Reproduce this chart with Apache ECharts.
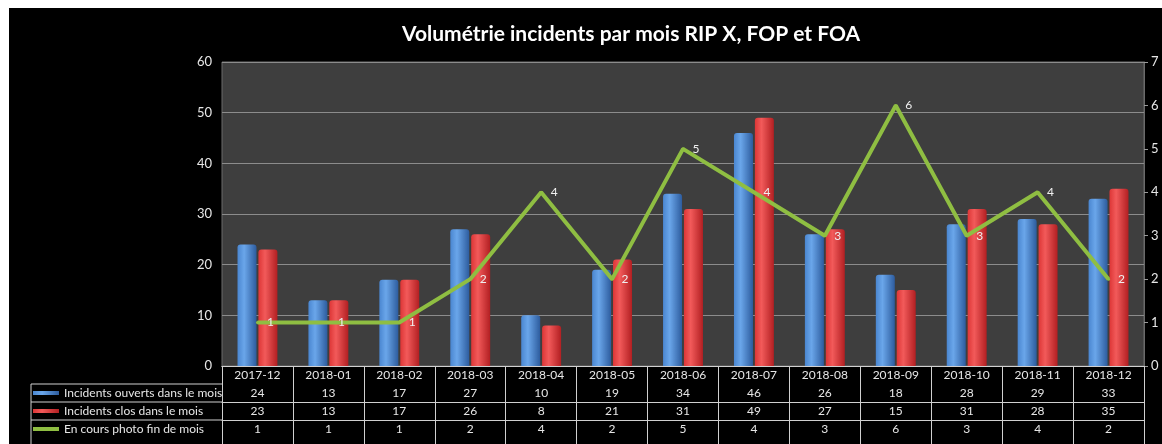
<!DOCTYPE html>
<html>
<head>
<meta charset="utf-8">
<script src="https://cdn.jsdelivr.net/npm/echarts@6/dist/echarts.min.js"></script>
<style>
  html, body { margin: 0; padding: 0; background: #fff; }
  #chart { position: absolute; left: 9px; top: 8px; width: 1153px; height: 436px; background: #000; }
</style>
</head>
<body>
<div id="chart"></div>
<script>
var months = ['2017-12', '2018-01', '2018-02', '2018-03', '2018-04', '2018-05', '2018-06',
  '2018-07', '2018-08', '2018-09', '2018-10', '2018-11', '2018-12'];
var ouverts = [24, 13, 17, 27, 10, 19, 34, 46, 26, 18, 28, 29, 33];
var clos = [23, 13, 17, 26, 8, 21, 31, 49, 27, 15, 31, 28, 35];
var enCours = [1, 1, 1, 2, 4, 2, 5, 4, 3, 6, 3, 4, 2];

var nameOuverts = 'Incidents ouverts dans le mois';
var nameClos = 'Incidents clos dans le mois';
var nameEnCours = 'En cours photo fin de mois';

var font = 'Lato, "Open Sans", sans-serif';
var textColor = '#e6e6e6';

var chart = echarts.init(document.getElementById('chart'));

function barGradient(light, mid, dark) {
  return new echarts.graphic.LinearGradient(0, 0, 1, 0, [
    { offset: 0, color: mid },
    { offset: 0.35, color: light },
    { offset: 1, color: dark }
  ]);
}

// table rows under the plot are extra x axes, one per series
function rowAxis(offset, values) {
  return {
    type: 'category',
    position: 'bottom',
    offset: offset,
    data: months,
    axisLine: { show: true, lineStyle: { color: '#d0d0d0', width: 1 } },
    axisTick: { show: false },
    axisLabel: {
      interval: 0,
      margin: 3,
      color: textColor,
      fontSize: 12,
      fontFamily: font,
      formatter: function (v, i) { return String(values[i]); }
    }
  };
}

var option = {
  animation: false,
  textStyle: { fontFamily: font },
  title: {
    text: 'Volumétrie incidents par mois RIP X, FOP et FOA',
    left: 388,
    top: 11,
    textStyle: { color: '#ffffff', fontSize: 21, fontWeight: 'bold', fontFamily: font }
  },
  grid: {
    left: 213,
    right: 18,
    top: 54,
    bottom: 78,
    show: true,
    backgroundColor: '#3e3e3e',
    borderColor: '#6a6a6a',
    borderWidth: 1
  },
  legend: {
    orient: 'vertical',
    left: 24,
    top: 378,
    padding: 0,
    itemWidth: 26,
    itemHeight: 4,
    itemGap: 4,
    textStyle: { color: textColor, fontSize: 12, lineHeight: 14, fontFamily: font },
    data: [
      { name: nameOuverts, icon: 'rect' },
      { name: nameClos, icon: 'rect' },
      { name: nameEnCours, icon: 'rect' }
    ]
  },
  xAxis: [
    {
      type: 'category',
      data: months,
      axisLine: { show: true, lineStyle: { color: '#d0d0d0', width: 1 } },
      axisTick: { show: true, interval: 0, length: 80, lineStyle: { color: '#d0d0d0' } },
      axisLabel: { interval: 0, margin: 3, color: textColor, fontSize: 12, fontFamily: font }
    },
    rowAxis(18, ouverts),
    rowAxis(36, clos),
    rowAxis(54, enCours)
  ],
  yAxis: [
    {
      type: 'value',
      min: 0,
      max: 60,
      interval: 10,
      axisLine: { show: false },
      axisTick: { show: false },
      axisLabel: { color: textColor, fontSize: 13, margin: 10, fontFamily: font },
      splitLine: { lineStyle: { color: '#8c8c8c', width: 1 } }
    },
    {
      type: 'value',
      min: 0,
      max: 7,
      interval: 1,
      position: 'right',
      axisLine: { show: true, lineStyle: { color: '#6a6a6a' } },
      axisTick: { show: true, length: 4, lineStyle: { color: '#9a9a9a' } },
      axisLabel: { color: textColor, fontSize: 13, margin: 7, fontFamily: font },
      splitLine: { show: false }
    }
  ],
  series: [
    {
      name: nameOuverts,
      type: 'bar',
      barWidth: 19,
      barGap: '10%',
      data: ouverts,
      itemStyle: {
        color: barGradient('#6aa6ea', '#4a86d0', '#2d5c9e'),
        borderRadius: [3, 3, 0, 0]
      }
    },
    {
      name: nameClos,
      type: 'bar',
      barWidth: 19,
      data: clos,
      itemStyle: {
        color: barGradient('#f25a5a', '#dd3636', '#b21f22'),
        borderRadius: [3, 3, 0, 0]
      }
    },
    {
      name: nameEnCours,
      type: 'line',
      yAxisIndex: 1,
      data: enCours,
      showSymbol: true,
      symbol: 'circle',
      symbolSize: 3,
      lineStyle: { color: '#8fbe42', width: 4 },
      itemStyle: { color: '#8fbe42' },
      label: {
        show: true,
        position: 'right',
        distance: 8,
        color: '#f0f0f0',
        fontSize: 12,
        fontFamily: font
      }
    }
  ],
  graphic: [
    { type: 'line', shape: { x1: 22, y1: 376, x2: 213, y2: 376 }, style: { stroke: '#d0d0d0', lineWidth: 1 } },
    { type: 'line', shape: { x1: 22, y1: 394, x2: 213, y2: 394 }, style: { stroke: '#d0d0d0', lineWidth: 1 } },
    { type: 'line', shape: { x1: 22, y1: 412, x2: 213, y2: 412 }, style: { stroke: '#d0d0d0', lineWidth: 1 } },
    { type: 'line', shape: { x1: 22, y1: 376, x2: 22, y2: 436 }, style: { stroke: '#d0d0d0', lineWidth: 1 } }
  ]
};

chart.setOption(option);

window.addEventListener('resize', function () {
  chart.resize();
});
</script>
</body>
</html>
